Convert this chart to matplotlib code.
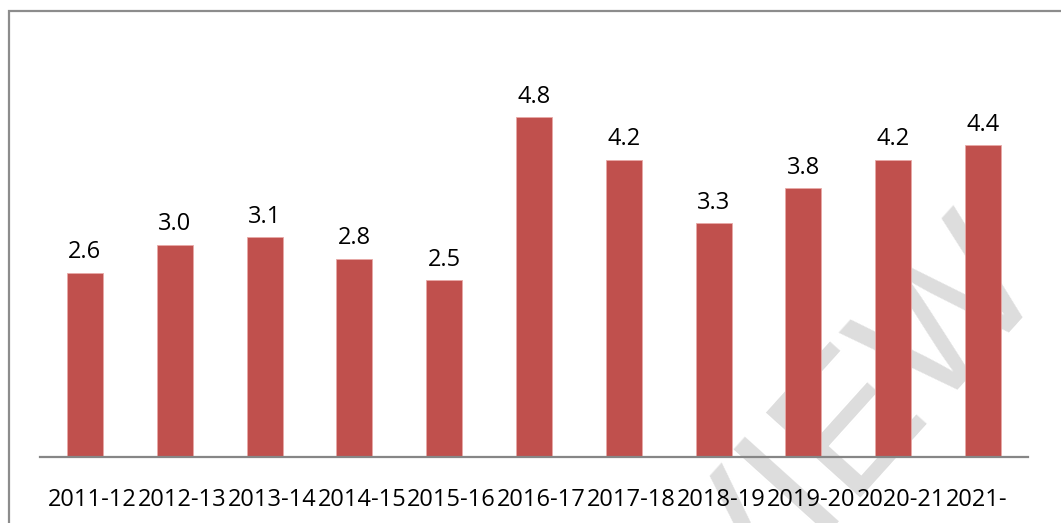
import matplotlib.pyplot as plt
from matplotlib.patches import Rectangle
from matplotlib.transforms import ScaledTranslation

# Data
years = ['2011-12', '2012-13', '2013-14', '2014-15', '2015-16', '2016-17',
         '2017-18', '2018-19', '2019-20', '2020-21', '2021-']
values = [2.6, 3.0, 3.1, 2.8, 2.5, 4.8, 4.2, 3.3, 3.8, 4.2, 4.4]

plt.rcParams['font.family'] = ['Open Sans', 'DejaVu Sans']

W, H = 1061, 523
fig = plt.figure(figsize=(W / 100, H / 100), dpi=100)
fig.patch.set_facecolor('white')

# Outer gray frame (right and bottom run off the picture)
fig.patches.append(Rectangle((8.5 / W, -0.1), 1.2, 1 - 11.5 / H + 0.1,
                             transform=fig.transFigure, fill=False,
                             edgecolor='#8c8c8c', lw=1.6, zorder=-2))

# Watermark behind everything in the axes
fig.text(725 / W, 1 - 560 / H, 'PREVIEW', fontsize=132, color='#dddddd',
         family='Liberation Sans', rotation=48, rotation_mode='anchor',
         ha='center', va='center', zorder=-1)

ax = fig.add_axes([40 / W, 66 / H, 988 / W, 425 / H])
ax.patch.set_alpha(0)
x = range(len(years))
bars = ax.bar(x, values, width=0.4, color='#c0504d', edgecolor='#e8a9a7',
              linewidth=0.6, zorder=2)

for xi, v in zip(x, values):
    ax.annotate(f'{v:.1f}', (xi, v), xytext=(0, 6), textcoords='offset points',
                ha='center', va='bottom', fontsize=17, color='black')

ax.set_xlim(-0.5, len(years) - 0.5)
ax.set_ylim(0, 6)
ax.set_xticks(list(x))
ax.set_xticklabels(years, fontsize=17)
ax.tick_params(axis='x', length=0, pad=22)
ax.set_yticks([])
for s in ['top', 'right', 'left']:
    ax.spines[s].set_visible(False)
ax.spines['bottom'].set_color('#868686')
ax.spines['bottom'].set_linewidth(1.6)

# Excel-style labels sit a little right of the bars; last one is cut short
labels = ax.get_xticklabels()
for lab in labels[:-1]:
    lab.set_transform(lab.get_transform() + ScaledTranslation(7.5 / 100, 0, fig.dpi_scale_trans))
labels[-1].set_ha('left')
labels[-1].set_transform(labels[-1].get_transform() + ScaledTranslation(-37 / 100, 0, fig.dpi_scale_trans))

fig.savefig('out.png', dpi=100)
